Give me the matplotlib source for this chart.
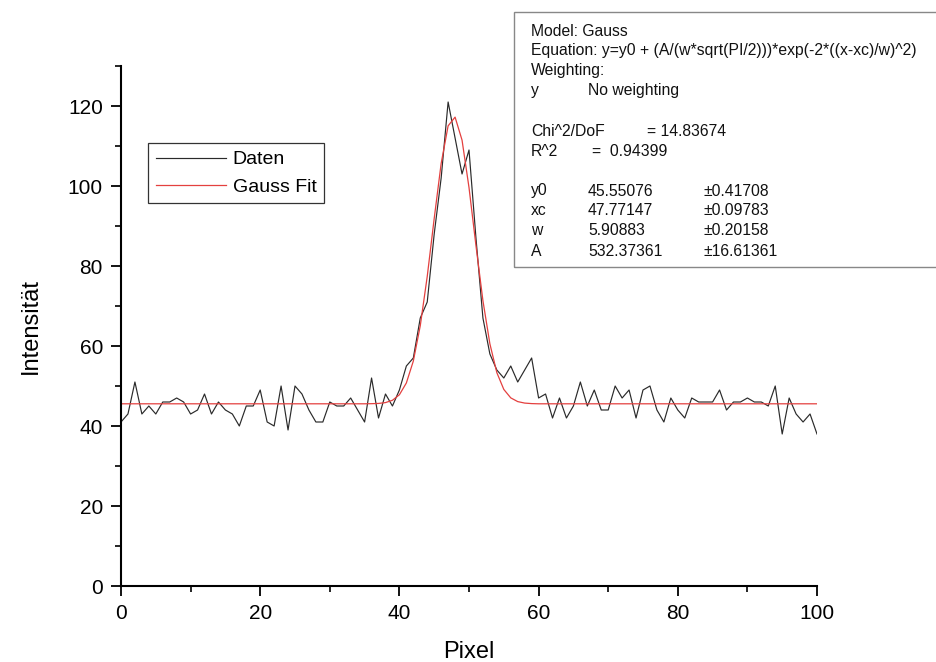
from matplotlib import pyplot as plt
from matplotlib.patches import Rectangle
from matplotlib.ticker import MultipleLocator
from numpy import arange

plt.rcParams["font.family"] = ["Liberation Sans", "DejaVu Sans"]

# --- Data ---
pixel = arange(0, 101)

daten = [
    41, 43, 51, 43, 45, 43, 46, 46, 47, 46, 43, 44, 48, 43, 46, 44, 43, 40, 45, 45, 49,
    41, 40, 50, 39, 50, 48, 44, 41, 41, 46, 45, 45, 47, 44, 41, 52, 42, 48, 45, 49,
    55, 57, 67, 71, 88, 102, 121, 112, 103, 109, 87, 67, 58, 54, 52, 55, 51, 54, 57, 47,
    48, 42, 47, 42, 45, 51, 45, 49, 44, 44, 50, 47, 49, 42, 49, 50, 44, 41, 47, 44,
    42, 47, 46, 46, 46, 49, 44, 46, 46, 47, 46, 46, 45, 50, 38, 47, 43, 41, 43, 38,
]

# fit curve (flat baseline outside the peak)
gauss_peak = [
    45.58, 45.64, 45.85, 46.43, 47.81, 50.76, 56.23, 65.08, 77.40, 91.88,
    105.64, 115.04, 117.22, 111.47, 99.62, 85.10, 71.34, 60.55, 53.34,
    49.15, 47.03, 46.10, 45.73, 45.60,
]
gauss_fit = [45.55] * 36 + gauss_peak + [45.55] * 41

# fit report texts
report_head = ["Model: Gauss",
               "Equation: y=y0 + (A/(w*sqrt(PI/2)))*exp(-2*((x-xc)/w)^2)",
               "Weighting:"]
param_names = ["y0", "xc", "w", "A"]
param_values = ["45.55076", "47.77147", "5.90883", "532.37361"]
param_errors = ["\u00b10.41708", "\u00b10.09783", "\u00b10.20158", "\u00b116.61361"]

W, H = 936, 662
fig = plt.figure(figsize=(W / 100, H / 100), dpi=100)
ax = fig.add_axes([121 / W, 1 - 586 / H, 696 / W, 520 / H])

ax.plot(pixel, daten, color="#2a2a2a", lw=0.85, label="Daten")
ax.plot(pixel, gauss_fit, color="#e4403f", lw=0.9, label="Gauss Fit")

ax.set_xlim(0, 100)
ax.set_ylim(0, 130)
ax.spines["top"].set_visible(False)
ax.spines["right"].set_visible(False)
for side in ("left", "bottom"):
    ax.spines[side].set_linewidth(1.5)
ax.set_yticks(arange(0, 121, 20))
ax.xaxis.set_major_locator(MultipleLocator(20))
ax.xaxis.set_minor_locator(MultipleLocator(10))
ax.yaxis.set_minor_locator(MultipleLocator(10))
ax.tick_params(which="major", direction="out", length=7, width=1.3, labelsize=15, pad=6)
ax.tick_params(which="minor", direction="out", length=4, width=1.2)

ax.set_xlabel("Pixel", fontsize=17, labelpad=13)
ax.set_ylabel("Intensität", fontsize=17, labelpad=19)

leg = ax.legend(loc="upper left", bbox_to_anchor=(0.039, 0.852), borderaxespad=0,
                fontsize=14, fancybox=False, edgecolor="black", handlelength=3.6,
                handletextpad=0.35, borderpad=0.4, labelspacing=0.5)
leg.get_frame().set_linewidth(0.9)


# --- Fit report box (figure pixel positions) ---
def fpos(px, py):
    return px / W, 1 - py / H


box_x, box_y = fpos(514, 267)
fig.patches.append(Rectangle((box_x, box_y), 0.5, (267 - 12) / H, transform=fig.transFigure,
                             fill=False, edgecolor="#888888", lw=1.0, clip_on=False))

txt = dict(fontsize=11.3, va="center", ha="left", color="#111111")
for i, line in enumerate(report_head):
    fig.text(*fpos(531, 31 + 20 * i), line, **txt)
fig.text(*fpos(531, 91), "y", **txt)
fig.text(*fpos(588, 91), "No weighting", **txt)
fig.text(*fpos(531, 132), "Chi^2/DoF", **txt)
fig.text(*fpos(647, 132), "= 14.83674", **txt)
fig.text(*fpos(531, 152), "R^2", **txt)
fig.text(*fpos(592, 152), "=  0.94399", **txt)
for i in range(len(param_names)):
    y = 191 + 20 * i
    fig.text(*fpos(531, y), param_names[i], **txt)
    fig.text(*fpos(588, y), param_values[i], **txt)
    fig.text(*fpos(703, y), param_errors[i], **txt)

fig.savefig("out.png", dpi=100)
